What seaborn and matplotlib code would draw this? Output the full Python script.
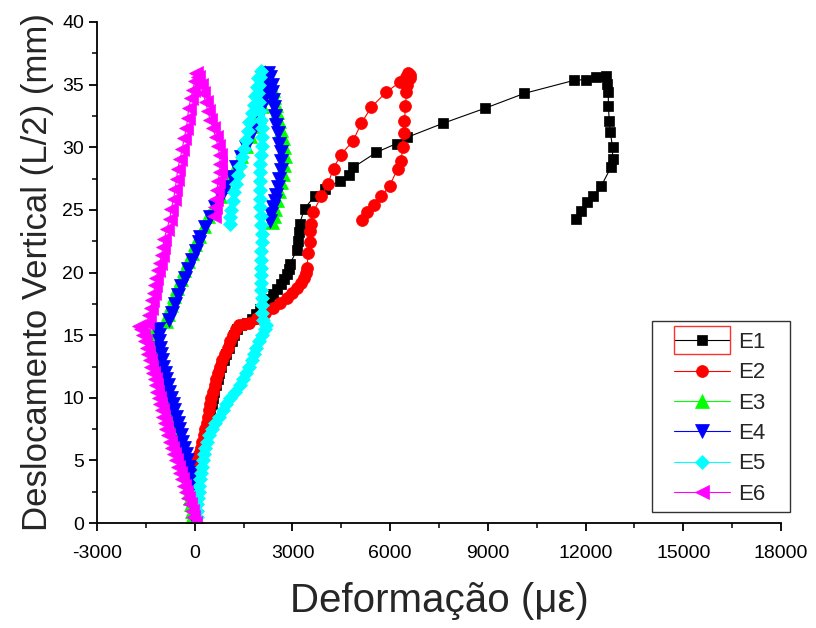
#%% Modules Import
import numpy as np
import pandas as pd

import seaborn as sns
import matplotlib.pyplot as plt
from matplotlib.patches import Rectangle
from matplotlib.ticker import MultipleLocator

#%% - Data (x: strain in micro-strain, y: displacement in mm)
e1_x = [40, 30, 20, 10, 10, 10, 20, 30, 50, 80, 120, 170, 220, 270, 315, 360, 400, 440, 480, 515,
        550, 600, 650, 700, 750, 810, 890, 970, 1050, 1130, 1200, 1300, 1420,
        1600, 1760, 1880, 2000, 2130, 2270, 2400, 2530, 2650, 2750, 2830, 2890, 2930,
        3130, 3160, 3190, 3220, 3370, 3680, 4000, 4450, 4750, 4870, 5580, 6200, 6530, 7610, 8900,
        10120, 11660, 12020, 12320, 12630, 12670, 12700, 12700, 12730, 12760, 12830, 12830, 12780,
        12480, 12240, 12060, 11860, 11710]
e1_y = [0, 0.5, 1, 1.5, 2, 2.5, 3, 3.5, 4, 4.5, 5, 5.5, 6, 6.5, 7, 7.5, 8, 8.5, 9, 9.5,
        10, 10.5, 11, 11.5, 12, 12.5, 13, 13.5, 14, 14.5, 15, 15.5, 15.8,
        16.0, 16.3, 16.7, 17.1, 17.5, 17.9, 18.3, 18.7, 19.1, 19.5, 19.9, 20.3, 20.7,
        21.8, 22.5, 23.2, 23.9, 25.1, 26.1, 26.7, 27.3, 27.8, 28.4, 29.6, 30.3, 30.8, 31.9, 33.1,
        34.3, 35.35, 35.4, 35.6, 35.7, 35.05, 34.4, 33.3, 32.1, 31.2, 30.0, 29.1, 28.4,
        26.9, 26.1, 25.6, 24.9, 24.3]

e2_x = [0, -10, -20, -30, -30, -30, -20, -10, 10, 40, 80, 130, 180, 230, 275, 320, 360, 400, 440, 475,
        510, 560, 610, 660, 710, 770, 850, 930, 1010, 1090, 1160, 1270, 1350,
        1500, 1650, 1900, 2150, 2400, 2620, 2820, 3000, 3150, 3270, 3360, 3420, 3450,
        3480, 3530, 3530, 3580, 3630, 3890, 4090, 4260, 4480, 4860, 5110, 5420, 5880, 6300, 6500,
        6560, 6620, 6600, 6520, 6500, 6470, 6440, 6410, 6380, 6340, 6230, 5980, 5730, 5500, 5290, 5140]
e2_y = [0, 0.5, 1, 1.5, 2, 2.5, 3, 3.5, 4, 4.5, 5, 5.5, 6, 6.5, 7, 7.5, 8, 8.5, 9, 9.5,
        10, 10.5, 11, 11.5, 12, 12.5, 13, 13.5, 14, 14.5, 15, 15.5, 15.8,
        15.9, 16.0, 16.4, 16.8, 17.2, 17.6, 18.0, 18.4, 18.8, 19.2, 19.6, 20.0, 20.4,
        21.6, 22.4, 23.3, 23.9, 24.8, 26.1, 27.1, 28.3, 29.4, 30.5, 31.9, 33.2, 34.4, 35.2, 35.6,
        35.9, 35.8, 35.5, 35.0, 34.4, 33.3, 32.1, 31.1, 30.0, 28.9, 28.3, 26.9, 26.1, 25.4, 24.8, 24.2]

e3_x = [-60, -80, -100, -120, -150, -180, -210, -250, -290, -330, -370, -420, -460, -510, -560, -610,
        -660, -710, -760, -800, -850, -900, -950, -990, -1030, -1070, -1110, -1140, -1170, -1190,
        -1200, -1210,
        -880, -830, -740, -640, -540, -430, -320, -210, -90, 20,
        130, 290, 420, 580, 760, 950, 1120, 1280, 1420, 1580, 1710, 1850, 1980, 2050, 2100, 2130, 2150,
        2250, 2320, 2400, 2440, 2480, 2520, 2580, 2640, 2700, 2740, 2760, 2740, 2700, 2660, 2600, 2540,
        2470, 2420, 2380]
e3_y = [0, 0.5, 1, 1.5, 2, 2.5, 3, 3.5, 4, 4.5, 5, 5.5, 6, 6.5, 7, 7.5,
        8, 8.5, 9, 9.5, 10, 10.5, 11, 11.5, 12, 12.5, 13, 13.5, 14, 14.5,
        15, 15.5,
        16.1, 16.7, 17.4, 18.1, 18.8, 19.5, 20.2, 20.9, 21.6, 22.3,
        22.9, 23.7, 24.5, 25.3, 26.1, 26.9, 27.7, 28.5, 29.3, 30.1, 30.9, 31.7, 32.5, 33.3, 34.1, 34.9, 36.0,
        35.7, 35.2, 34.6, 34.0, 33.4, 32.8, 32.1, 31.4, 30.7, 30.0, 29.3, 28.6, 27.9, 27.2, 26.5, 25.8,
        25.1, 24.5, 24.0]

e4_x = [40, 30, 20, 0, -20, -50, -80, -110, -150, -190, -230, -280, -330, -380, -430, -480,
        -530, -580, -630, -680, -730, -780, -830, -880, -930, -980, -1020, -1050, -1080, -1100,
        -1110, -1120,
        -800, -715, -620, -520, -420, -310, -200, -90, 30, 140,
        150, 320, 460, 630, 800, 970, 1130, 1280, 1430, 1570, 1690, 1830, 1960, 2060, 2160, 2200, 2230, 2260,
        2320, 2360, 2380, 2400, 2420, 2460, 2500, 2560, 2600, 2640, 2660, 2640, 2600, 2560, 2500, 2450,
        2400, 2350, 2300]
e4_y = [0, 0.5, 1, 1.5, 2, 2.5, 3, 3.5, 4, 4.5, 5, 5.5, 6, 6.5, 7, 7.5,
        8, 8.5, 9, 9.5, 10, 10.5, 11, 11.5, 12, 12.5, 13, 13.5, 14, 14.5,
        15, 15.5,
        16.2, 16.8, 17.5, 18.2, 18.9, 19.6, 20.3, 21.0, 21.7, 22.4,
        22.8, 23.6, 24.4, 25.2, 26.0, 26.8, 27.6, 28.4, 29.2, 30.0, 30.8, 31.6, 32.4, 33.2, 34.0, 34.7, 35.3, 35.9,
        35.6, 35.0, 34.4, 33.8, 33.2, 32.5, 31.8, 31.1, 30.3, 29.6, 28.9, 28.2, 27.5, 26.8, 26.2, 25.7,
        25.2, 24.7, 24.1]

e5_x = [80, 70, 70, 80, 100, 120, 140, 160, 190, 220, 250, 280, 310, 360, 430, 530,
        630, 740, 860, 970, 1080, 1230, 1380, 1480, 1580, 1670, 1760, 1830, 1890, 1960,
        2050, 2150, 2200,
        2110, 2070, 2060, 2050, 2040, 2030, 2020, 2020, 2030, 2040, 2050, 2050, 2040, 2020, 2000, 1990,
        2000, 2010, 2000, 2000, 2020, 2050, 2060, 2050, 2030, 2000, 1970, 1940, 1960, 2000, 2030,
        1930, 1900, 1860, 1820, 1760, 1680, 1620, 1570, 1520, 1460, 1390, 1330, 1260, 1210, 1160,
        1120, 1090, 1070]
e5_y = [0, 0.5, 1, 1.5, 2, 2.5, 3, 3.5, 4, 4.5, 5, 5.5, 6, 6.5, 7, 7.5,
        8, 8.5, 9, 9.5, 10, 10.5, 11, 11.5, 12, 12.5, 13, 13.5, 14, 14.5,
        15, 15.5, 15.8,
        16.2, 16.8, 17.4, 18.0, 18.6, 19.2, 19.8, 20.4, 21.0, 21.7, 22.4, 23.1, 23.8, 24.5, 25.2, 25.9,
        26.6, 27.3, 28.0, 28.7, 29.4, 30.1, 30.8, 31.5, 32.2, 32.9, 33.6, 34.3, 35.0, 35.6, 36.1,
        35.5, 34.8, 34.1, 33.4, 32.7, 32.0, 31.3, 30.6, 29.9, 29.2, 28.5, 27.8, 27.1, 26.4, 25.7,
        25.0, 24.4, 23.9]

e6_x = [10, -40, -90, -150, -210, -270, -330, -390, -450, -510, -570, -630, -690, -750, -810, -870,
        -920, -970, -1020, -1070, -1110, -1150, -1190, -1230, -1280, -1330, -1380, -1430, -1480, -1530,
        -1580, -1640, -1700,
        -1480, -1400, -1350, -1300, -1260, -1220, -1180, -1130, -1080, -1020, -980,
        -940, -850, -770, -720, -650, -600, -560, -520, -450, -380, -330, -260, -220, -190, -120, -60, 0, 30,
        100, 180, 260, 330, 400, 470, 560, 640, 710, 760, 780, 760, 720, 680, 650, 630, 600]
e6_y = [0, 0.5, 1, 1.5, 2, 2.5, 3, 3.5, 4, 4.5, 5, 5.5, 6, 6.5, 7, 7.5,
        8, 8.5, 9, 9.5, 10, 10.5, 11, 11.5, 12, 12.5, 13, 13.5, 14, 14.5,
        15, 15.5, 15.7,
        16.0, 16.6, 17.2, 17.8, 18.4, 19.0, 19.6, 20.2, 20.8, 21.4, 22.0,
        22.7, 23.5, 24.3, 25.1, 25.9, 26.7, 27.5, 28.3, 29.1, 29.9, 30.7, 31.5, 32.3, 33.1, 33.9, 34.6, 35.3, 35.9,
        35.6, 35.0, 34.3, 33.6, 32.9, 32.2, 31.5, 30.8, 30.1, 29.4, 28.7, 28.0, 27.3, 26.6, 25.9, 25.2, 24.5]

series_names = ['E1', 'E2', 'E3', 'E4', 'E5', 'E6']
series_colors = ['#000000', '#ff0000', '#00ff00', '#0000ff', '#00ffff', '#ff00ff']

#%% - Long table for seaborn
xs = [e1_x, e2_x, e3_x, e4_x, e5_x, e6_x]
ys = [e1_y, e2_y, e3_y, e4_y, e5_y, e6_y]
df = pd.concat([pd.DataFrame({'x': x, 'y': y, 'serie': n}) for x, y, n in zip(xs, ys, series_names)],
               ignore_index=True)

#%% - Plotting
sns.set_style('ticks')
plt.rcParams['font.family'] = ['Liberation Sans', 'DejaVu Sans']
plt.rcParams['axes.unicode_minus'] = False

markers = {'E1': ('s', 7.5), 'E2': ('o', 8.6), 'E3': ('^', 9.5),
           'E4': ('v', 9.5), 'E5': ('D', 7.0), 'E6': ('<', 9.5)}

W, H = 816, 628
fig = plt.figure(figsize=(W / 100, H / 100), dpi=100)
ax = fig.add_axes([0.119, 0.167, 0.838, 0.798])

for name, col in zip(series_names, series_colors):
    m, ms = markers[name]
    sns.lineplot(data=df[df['serie'] == name], x='x', y='y', sort=False, estimator=None,
                 color=col, marker=m, markersize=ms, markeredgecolor=col, markeredgewidth=0.5,
                 linewidth=0.8, label=name, ax=ax)

ax.set_xlim(-3000, 18000)
ax.set_ylim(0, 40)
ax.xaxis.set_major_locator(MultipleLocator(3000))
ax.xaxis.set_minor_locator(MultipleLocator(1500))
ax.yaxis.set_major_locator(MultipleLocator(5))
ax.yaxis.set_minor_locator(MultipleLocator(2.5))
ax.tick_params(which='major', direction='out', length=6, width=1.3, labelsize=14, colors='black')
ax.tick_params(which='minor', direction='out', length=3.5, width=1.3)
ax.tick_params(axis='x', which='major', pad=10)

sns.despine(ax=ax)
for s in ['left', 'bottom']:
    ax.spines[s].set_linewidth(1.3)
    ax.spines[s].set_color('black')

ax.set_xlabel('Deformação (\u03bc\u03b5)', fontsize=29, labelpad=14)
ax.set_ylabel('Deslocamento Vertical (L/2) (mm)', fontsize=25, labelpad=6)

# legend without its own frame, frame drawn where the source has it
leg = ax.legend(loc='upper left', bbox_to_anchor=(674 / W, 1 - 332 / H), bbox_transform=fig.transFigure,
                fontsize=16, handlelength=2.5, handletextpad=0.4, labelspacing=0.42,
                borderpad=0, borderaxespad=0, frameon=False)
fig.patches.append(Rectangle((652 / W, 1 - 512 / H), 138 / W, 191 / H, transform=fig.transFigure,
                             fill=False, edgecolor='#333333', linewidth=1.0))
# selection box round the first legend entry in the source picture
fig.patches.append(Rectangle((674 / W, 1 - 354 / H), 56 / W, 28 / H, transform=fig.transFigure,
                             fill=False, edgecolor='#ff3030', linewidth=1.0))

fig.savefig('out.png', dpi=100)
